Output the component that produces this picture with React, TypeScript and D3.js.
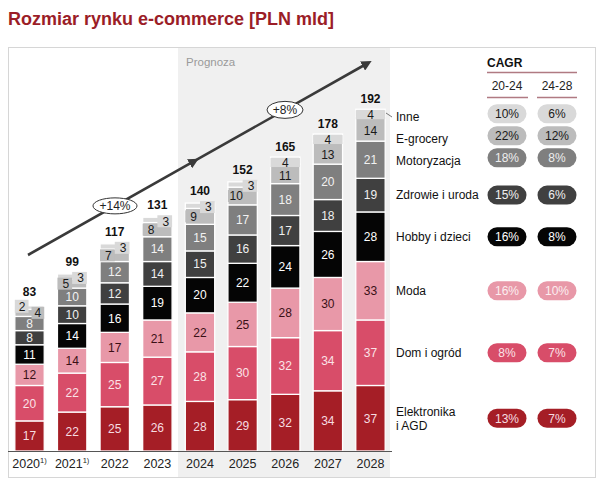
import React from "react";
import * as d3 from "d3";

const years = ["2020", "2021", "2022", "2023", "2024", "2025", "2026", "2027", "2028"];
const yearNotes = ["1)", "1)", "", "", "", "", "", "", ""];
const totals = [83, 99, 117, 131, 140, 152, 165, 178, 192];

const elektronika = [17, 22, 25, 26, 28, 29, 32, 34, 37];
const domOgrod = [20, 22, 25, 27, 28, 30, 32, 34, 37];
const moda = [12, 14, 17, 21, 22, 25, 28, 30, 33];
const hobby = [11, 14, 16, 19, 20, 22, 24, 26, 28];
const zdrowie = [8, 10, 12, 14, 15, 16, 17, 18, 19];
const motoryzacja = [8, 10, 12, 14, 15, 17, 18, 20, 21];
const egrocery = [4, 5, 7, 8, 9, 10, 11, 13, 14];
const inne = [2, 3, 3, 3, 3, 3, 4, 4, 4];

const seriesNames = ["Elektronika\ni AGD", "Dom i ogród", "Moda", "Hobby i dzieci", "Zdrowie i uroda", "Motoryzacja", "E-grocery", "Inne"];
const cagr2024 = ["13%", "8%", "16%", "16%", "15%", "18%", "22%", "10%"];
const cagr2428 = ["7%", "7%", "10%", "8%", "6%", "8%", "12%", "6%"];
const growthLabels = ["+14%", "+8%"];

const seriesValues = [elektronika, domOgrod, moda, hobby, zdrowie, motoryzacja, egrocery, inne];
const colors = ["#a51e26", "#d84d69", "#e898a8", "#050505", "#404040", "#7f7f7f", "#bcbcbc", "#d9d9d9"];
const textColors = ["#f6dde1", "#fbe3e7", "#3a1016", "#ffffff", "#f0f0f0", "#f2f2f2", "#1a1a1a", "#1a1a1a"];
const pillText = ["#f6dde1", "#fbe3e7", "#fbeef0", "#ffffff", "#f0f0f0", "#eeeeee", "#1a1a1a", "#1a1a1a"];

const FONT = "'Liberation Sans', Arial, sans-serif";

export default function App() {
  const x = d3.scaleBand<string>().domain(years).range([8, 392]).paddingInner(0.31).paddingOuter(0.16);
  const y = d3.scaleLinear().domain([0, 192]).range([451, 111]);
  const bw = x.bandwidth();

  const table = years.map((yr, i) => {
    const row: any = { year: yr };
    seriesValues.forEach((s, k) => (row["s" + k] = s[i]));
    return row;
  });
  const stack = d3.stack<any>().keys(seriesValues.map((_, k) => "s" + k))(table);

  // legend positions: segment centres of the last bar; small top segments stacked evenly above
  const last = years.length - 1;
  const legendY: number[] = [];
  stack.forEach((layer, k) => {
    const c = (y(layer[last][0]) + y(layer[last][1])) / 2;
    legendY[k] = k < 6 ? c - (k === 5 ? 2 : 0) : legendY[k - 1] - 22;
  });

  const bars: React.ReactNode[] = [];
  const labels: React.ReactNode[] = [];
  years.forEach((yr, i) => {
    const x0 = x(yr)!;
    const cx = x0 + bw / 2;
    const top = y(stack[7][i][1]);
    stack.forEach((layer, k) => {
      const y0 = y(layer[i][0]);
      const y1 = y(layer[i][1]);
      bars.push(
        <rect key={`b${i}-${k}`} x={x0} y={y1} width={bw} height={Math.max(0, y0 - y1)} fill={colors[k]} stroke="#ffffff" strokeWidth={1.3} />
      );
      if (k < 6 || (k === 6 && inne[i] >= 4)) {
        labels.push(
          <text key={`l${i}-${k}`} x={cx} y={(y0 + y1) / 2 + (k === 6 ? 2 : 0)} dy="0.36em" textAnchor="middle" fontSize={12} fill={textColors[k]}>
            {layer[i][1] - layer[i][0]}
          </text>
        );
      }
    });
    const egMid = (y(stack[6][i][0]) + y(stack[6][i][1])) / 2;
    let raised = false;
    if (inne[i] >= 4) {
      labels.push(
        <g key={`in${i}`}>
          <rect x={x0} y={top + 1} width={bw} height={9} fill={colors[7]} />
          <text x={cx} y={top + 5.5} dy="0.36em" textAnchor="middle" fontSize={12} fill={textColors[7]}>{inne[i]}</text>
        </g>
      );
    } else if (egrocery[i] < 5) {
      raised = true;
      labels.push(
        <g key={`in${i}`}>
          <rect x={x0} y={top - 6} width={bw / 2 - 1} height={13} fill={colors[7]} />
          <text x={x0 + bw / 4} y={top + 0.5} dy="0.36em" textAnchor="middle" fontSize={12} fill={textColors[7]}>{inne[i]}</text>
          <rect x={cx + 2} y={egMid - 6} width={bw / 2 - 2} height={12} fill={colors[6]} />
          <text x={cx + bw / 4 + 1} y={egMid} dy="0.36em" textAnchor="middle" fontSize={12} fill={textColors[6]}>{egrocery[i]}</text>
        </g>
      );
    } else {
      raised = true;
      labels.push(
        <g key={`in${i}`}>
          <rect x={x0} y={egMid - 6} width={bw / 2} height={12} fill={colors[6]} />
          <text x={x0 + bw / 4 + 1} y={egMid} dy="0.36em" textAnchor="middle" fontSize={12} fill={textColors[6]}>{egrocery[i]}</text>
          <rect x={cx} y={top - 2} width={bw / 2} height={12} fill={colors[7]} />
          <text x={cx + bw / 4 + 1} y={top + 4} dy="0.36em" textAnchor="middle" fontSize={12} fill={textColors[7]}>{inne[i]}</text>
        </g>
      );
    }
    labels.push(
      <text key={`t${i}`} x={cx} y={top - (raised ? (egrocery[i] < 5 ? 10 : 8) : 6)} textAnchor="middle" fontSize={12} fontWeight="bold" fill="#111">
        {totals[i]}
      </text>
    );
  });

  // trend arrow
  const ax0 = 28, ay0 = 255, ax1 = 368, ay1 = 63;
  const at = (xx: number) => ay0 + ((ay1 - ay0) * (xx - ax0)) / (ax1 - ax0);
  const midX = 195;
  const ellipses = [
    { cx: 115, rx: 22, ry: 8, t: growthLabels[0] },
    { cx: 285, rx: 18, ry: 8.5, t: growthLabels[1] },
  ];

  const colA = 507, colB = 557;

  return (
    <svg width={605} height={489} style={{ position: "absolute", left: 0, top: 0, fontFamily: FONT }}>
      <defs>
        <marker id="ah" viewBox="0 0 10 10" refX="6" refY="5" markerWidth="4" markerHeight="4" orient="auto">
          <path d="M0,0 L10,5 L0,10 z" fill="#3a3a3a" />
        </marker>
      </defs>
      <rect x={0} y={0} width={605} height={489} fill="#ffffff" />
      <text x={8} y={25} fontSize={18} fontWeight="bold" fill="#9b1d27">Rozmiar rynku e-commerce [PLN mld]</text>
      <rect x={8.5} y={47.5} width={587} height={430} fill="#ffffff" stroke="#d6d6d6" />
      <rect x={178} y={48} width={212} height={429} fill="#f0f0f0" />
      <text x={186} y={66} fontSize={11.5} fill="#9a9a9a">Prognoza</text>

      {bars}
      {labels}

      <line x1={8} x2={392} y1={451.5} y2={451.5} stroke="#555" strokeWidth={1.2} />
      {years.map((yr, i) => (
        <text key={`x${i}`} x={x(yr)! + bw / 2} y={468} textAnchor="middle" fontSize={12.5} fill="#222">
          {yr}
          {yearNotes[i] && <tspan fontSize={7.5} dy={-5}>{yearNotes[i]}</tspan>}
        </text>
      ))}

      <path
        d={`M${ax0},${ay0} L${midX},${at(midX)} L${ax1},${ay1}`}
        fill="none"
        stroke="#3a3a3a"
        strokeWidth={2.6}
        markerMid="url(#ah)"
        markerEnd="url(#ah)"
      />
      {ellipses.map((e, i) => (
        <g key={`e${i}`}>
          <ellipse cx={e.cx} cy={at(e.cx)} rx={e.rx} ry={e.ry} fill="#ffffff" stroke="#333" strokeWidth={1} />
          <text x={e.cx} y={at(e.cx)} dy="0.36em" textAnchor="middle" fontSize={12} fill="#222">{e.t}</text>
        </g>
      ))}

      {/* CAGR header */}
      <text x={487} y={67} fontSize={12} fontWeight="bold" fill="#111">CAGR</text>
      <line x1={487} x2={577} y1={72.5} y2={72.5} stroke="#b07a82" strokeWidth={1.3} />
      <text x={colA} y={90} textAnchor="middle" fontSize={12} fill="#222">20-24</text>
      <text x={colB} y={90} textAnchor="middle" fontSize={12} fill="#222">24-28</text>
      <line x1={487} x2={528} y1={97.5} y2={97.5} stroke="#b07a82" strokeWidth={1.3} />
      <line x1={537} x2={577} y1={97.5} y2={97.5} stroke="#b07a82" strokeWidth={1.3} />

      {/* leader for Inne */}
      <line x1={386} y1={113} x2={392} y2={117} stroke="#555" strokeWidth={0.8} />

      {seriesNames.map((name, k) => {
        const ly = legendY[k] + (k >= 5 ? 3 : 0);
        const lines = name.split("\n");
        return (
          <g key={`lg${k}`}>
            <text x={396} y={ly - (lines.length - 1) * 7} fontSize={12} fill="#111">
              {lines.map((ln, j) => (
                <tspan key={j} x={396} dy={j === 0 ? "0.36em" : 14}>{ln}</tspan>
              ))}
            </text>
            {[colA, colB].map((cxp, c) => (
              <g key={c}>
                <rect x={cxp - 19.5} y={legendY[k] - 9.5} width={39} height={19} rx={9.5} fill={colors[k]} />
                <text x={cxp} y={legendY[k]} dy="0.36em" textAnchor="middle" fontSize={12} fill={pillText[k]}>
                  {c === 0 ? cagr2024[k] : cagr2428[k]}
                </text>
              </g>
            ))}
          </g>
        );
      })}
    </svg>
  );
}
